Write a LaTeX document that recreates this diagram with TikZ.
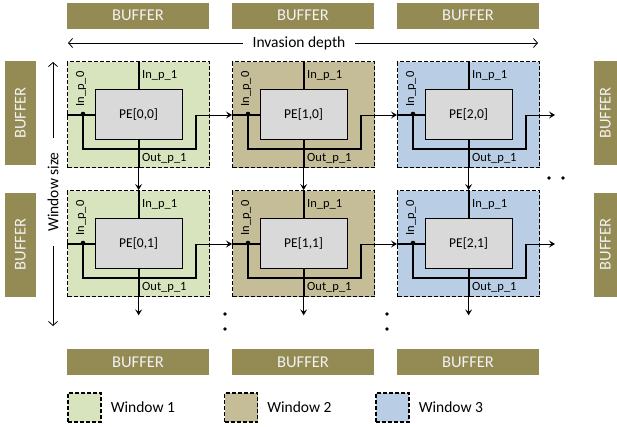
\documentclass[tikz,border=0pt]{standalone}
\usepackage{fontspec}
\setmainfont{Carlito}
\usetikzlibrary{arrows.meta,calc}
\definecolor{winA}{HTML}{D7E4BD}
\definecolor{winB}{HTML}{C4BD97}
\definecolor{winC}{HTML}{B9CDE5}
\definecolor{bufcol}{HTML}{948A54}
\definecolor{pegray}{HTML}{D9D9D9}
\begin{document}
\begin{tikzpicture}[x=1pt,y=-1pt,
  buffer/.style={fill=bufcol, text=white!95!black, inner sep=0pt,
    font=\fontsize{16.5}{16.5}\selectfont},
  hbuf/.style={buffer, minimum width=142pt, minimum height=26pt},
  vbuf/.style={buffer, rotate=90, minimum width=104pt, minimum height=31pt},
  window/.style={draw, dash pattern=on 4pt off 2pt, line width=1.3pt,
    minimum width=142pt, minimum height=106pt, inner sep=0pt},
  legendbox/.style={window, minimum width=33pt, minimum height=29pt},
  pebox/.style={draw, fill=pegray, line width=1.3pt, minimum width=87pt,
    minimum height=50pt, inner sep=0pt, font=\fontsize{13.5}{13.5}\selectfont},
  wire/.style={line width=1.7pt},
  flow/.style={line width=0.9pt, -{Stealth[length=6pt,width=7pt,inset=2.5pt]}},
  lbl/.style={font=\fontsize{12.5}{12.5}\selectfont, inner sep=0pt},
  maintext/.style={font=\fontsize{15.5}{15.5}\selectfont},
  dimarrow/.style={line width=0.8pt,
    {Straight Barb[length=4pt,width=9pt]}-{Straight Barb[length=4pt,width=9pt]}},
]
\useasboundingbox (0,0) rectangle (617,426);

% buffers along the four sides
\foreach \i/\cx in {0/138,1/303,2/468} {
  \node[hbuf] (buf-top-\i) at (\cx,15.5) {BUFFER};
  \node[hbuf] (buf-bot-\i) at (\cx,362) {BUFFER};
}
\foreach \j/\cy in {0/113,1/244.5} {
  \node[vbuf] (buf-left-\j) at (20.5,\cy) {BUFFER};
  \node[vbuf, minimum height=23pt] (buf-right-\j) at (605.5,\cy) {BUFFER};
}

% processing-element windows
\foreach \c/\col in {0/winA,1/winB,2/winC} {
  \foreach \r in {0,1} {
    \pgfmathsetmacro\X{67+165*\c}
    \pgfmathsetmacro\Y{61+129*\r}
    \node[window, fill=\col, anchor=north west] (w-\c-\r) at (\X,\Y) {};
    \node[pebox] (pe-\c-\r) at (w-\c-\r.center) {PE[\c,\r]};
    \node[lbl, anchor=west] (lin1-\c-\r) at (\X+75,\Y+14) {In\_p\_1};
    \node[lbl, anchor=west] (lout-\c-\r) at (\X+75,\Y+97) {Out\_p\_1};
    \node[lbl, rotate=90] (lin0-\c-\r) at (\X+14,\Y+28) {In\_p\_0};
    \coordinate (dot-\c-\r) at (\X+16,\Y+53);
    \coordinate (lb-\c-\r) at (\X+129,\Y+88);
    \coordinate (lt-\c-\r) at (\X+129,\Y+54);
    % internal wiring
    \draw[wire] (w-\c-\r.north) -- (pe-\c-\r.north);
    \draw[wire] (w-\c-\r.west) -- (pe-\c-\r.west);
    \draw[wire] (dot-\c-\r) |- (lb-\c-\r) -- (lt-\c-\r);
    \draw[wire] (pe-\c-\r.south) -- (w-\c-\r.south);
    \fill (dot-\c-\r) circle (2.3);
  }
}

% horizontal flow between windows
\foreach \r in {0,1} {
  \draw[flow] (lt-0-\r) -- (lt-0-\r -| w-1-\r.west);
  \draw[flow] (lt-1-\r) -- (lt-1-\r -| w-2-\r.west);
  \coordinate (hend-\r) at ($(lt-2-\r)+(29,0)$);
  \draw[flow] (lt-2-\r) -- (hend-\r);
}
% vertical flow between windows
\foreach \c in {0,1,2} {
  \draw[flow] (w-\c-0.south) -- (w-\c-1.north);
  \coordinate (vend-\c) at ($(w-\c-1.south)+(0,18)$);
  \draw[flow] (w-\c-1.south) -- (vend-\c);
}

% continuation dots
\foreach \p in {(225,314),(225,329),(387,314),(387,329),(549,178),(563,178)}
  \fill \p circle (1.8);

% dimension arrows
\coordinate (id-l) at (68,43);
\coordinate (id-r) at (538,43);
\draw[dimarrow] (id-l) -- (id-r);
\node[maintext, fill=white, inner xsep=10pt, inner ysep=1pt] (id-txt) at (299,43) {Invasion depth};
\coordinate (ws-t) at (53,62);
\coordinate (ws-b) at (53,326);
\draw[dimarrow] (ws-t) -- (ws-b);
\node[maintext, fill=white, rotate=90, inner xsep=14pt, inner ysep=1pt] (ws-txt) at (53,192) {Window size};

% legend
\foreach \k/\col/\lx in {1/winA/84.5,2/winB/241,3/winC/392.5} {
  \node[legendbox, fill=\col] (leg-\k) at (\lx,407.5) {};
  \node[maintext, anchor=west, inner sep=0pt] (legtxt-\k) at ($(leg-\k.east)+(9,0)$) {Window \k};
}
\end{tikzpicture}
\end{document}
